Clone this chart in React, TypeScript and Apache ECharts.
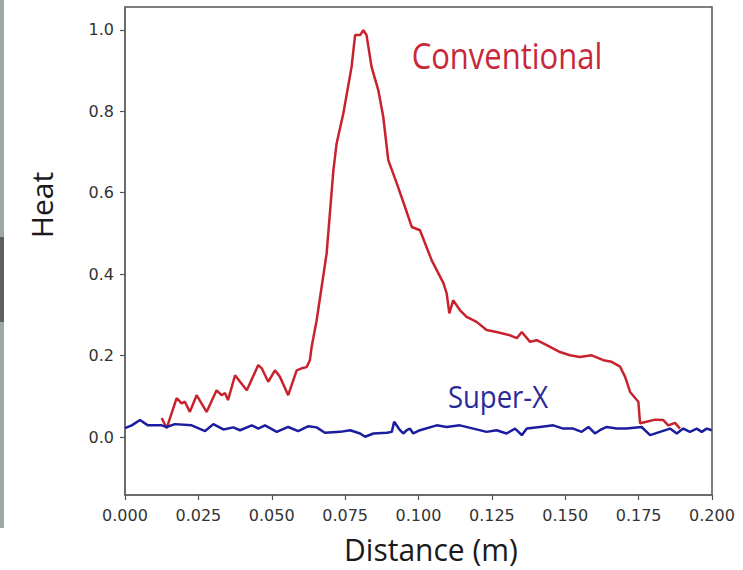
import React, { useEffect, useRef } from "react";
import * as echarts from "echarts";

const xTicks = [0, 0.025, 0.05, 0.075, 0.1, 0.125, 0.15, 0.175, 0.2];
const yTicks = [0, 0.2, 0.4, 0.6, 0.8, 1.0];

const conventionalX = [
  0.0125, 0.0142, 0.0176, 0.0193, 0.0204, 0.0221, 0.0244, 0.0278, 0.0312, 0.0329,
  0.0341, 0.0351, 0.0375, 0.0392, 0.0415, 0.0454, 0.0466, 0.0488, 0.0511, 0.0528,
  0.0556, 0.0585, 0.0602, 0.0619, 0.063, 0.0636, 0.0653, 0.0687, 0.071, 0.0721,
  0.0744, 0.0772, 0.0784, 0.0801, 0.0812, 0.0823, 0.084, 0.0863, 0.088, 0.0897,
  0.0926, 0.0954, 0.0977, 0.1005, 0.1045, 0.1085, 0.1096, 0.1105, 0.1118, 0.1141,
  0.1164, 0.1198, 0.1232, 0.1266, 0.1312, 0.1335, 0.1352, 0.138, 0.1403, 0.1437,
  0.1482, 0.1516, 0.155, 0.159, 0.163, 0.1658, 0.1687, 0.1704, 0.1721, 0.1749,
  0.1755, 0.1777, 0.1806, 0.1834, 0.1851, 0.1874, 0.1891,
];
const conventionalY = [
  0.047, 0.022, 0.096, 0.083, 0.087, 0.062, 0.103, 0.062, 0.115, 0.103,
  0.108, 0.091, 0.152, 0.136, 0.115, 0.177, 0.169, 0.136, 0.164, 0.148,
  0.103, 0.164, 0.169, 0.172, 0.189, 0.222, 0.287, 0.451, 0.655, 0.721,
  0.795, 0.909, 0.987, 0.987, 0.999, 0.987, 0.909, 0.852, 0.786, 0.68,
  0.623, 0.565, 0.516, 0.508, 0.434, 0.378, 0.353, 0.304, 0.336, 0.312,
  0.295, 0.283, 0.263, 0.258, 0.25, 0.243, 0.258, 0.234, 0.238, 0.226,
  0.209, 0.201, 0.197, 0.201, 0.189, 0.185, 0.173, 0.148, 0.111, 0.087,
  0.034, 0.038, 0.043, 0.042, 0.029, 0.035, 0.021,
];

const superX_X = [
  0.0, 0.0023, 0.0051, 0.0078, 0.0125, 0.0142, 0.017, 0.0227, 0.0273, 0.0301,
  0.0335, 0.0369, 0.0392, 0.0432, 0.0454, 0.0477, 0.0517, 0.0556, 0.059, 0.0625,
  0.0653, 0.0681, 0.0733, 0.0767, 0.0801, 0.0818, 0.0846, 0.0892, 0.0909, 0.0917,
  0.0937, 0.0948, 0.096, 0.0971, 0.0982, 0.1005, 0.1062, 0.1096, 0.1141, 0.1187,
  0.1232, 0.1266, 0.13, 0.1329, 0.1352, 0.1369, 0.1414, 0.1459, 0.1493, 0.1527,
  0.1556, 0.1579, 0.1601, 0.1618, 0.1641, 0.1675, 0.1709, 0.176, 0.1789, 0.1823,
  0.1857, 0.188, 0.1902, 0.1925, 0.1948, 0.1965, 0.1982, 0.1999,
];
const superX_Y = [
  0.022, 0.029, 0.042, 0.029, 0.029, 0.025, 0.032, 0.029, 0.015, 0.032,
  0.019, 0.024, 0.017, 0.029, 0.021, 0.029, 0.013, 0.025, 0.015, 0.027,
  0.024, 0.011, 0.013, 0.017, 0.009, 0.001, 0.009, 0.011, 0.013, 0.038,
  0.017, 0.009, 0.017, 0.021, 0.009, 0.017, 0.029, 0.025, 0.029, 0.021,
  0.013, 0.017, 0.009, 0.021, 0.005, 0.021, 0.025, 0.029, 0.021, 0.021,
  0.013, 0.025, 0.009, 0.017, 0.025, 0.021, 0.021, 0.025, 0.005, 0.013,
  0.021, 0.009, 0.021, 0.013, 0.021, 0.013, 0.021, 0.017,
];

const seriesNames = ["Conventional", "Super-X"];
const axisTitles = { x: "Distance (m)", y: "Heat" };

export default function App() {
  const ref = useRef<HTMLDivElement>(null);
  useEffect(() => {
    document.body.style.margin = "0";
    const chart = echarts.init(ref.current!, null, { renderer: "svg" });
    const conv = conventionalX.map((x, i) => [x, conventionalY[i]]);
    const sx = superX_X.map((x, i) => [x, superX_Y[i]]);
    const tickFont = {
      fontFamily: "DejaVu Sans",
      fontSize: 16,
      color: "#333",
    };
    chart.setOption({
      animation: false,
      backgroundColor: "#ffffff",
      grid: {
        left: 125,
        right: 31,
        top: 7,
        bottom: 75,
        show: true,
        borderColor: "#555",
        borderWidth: 1.5,
        outerBoundsMode: "none",
      },
      xAxis: {
        type: "value",
        min: 0,
        max: 0.2,
        interval: 0.025,
        axisLine: { show: true, onZero: false, lineStyle: { color: "#666", width: 1.5 } },
        axisTick: { show: true, length: 5, lineStyle: { color: "#555", width: 1.2 } },
        splitLine: { show: false },
        axisLabel: {
          ...tickFont,
          margin: 12,
          formatter: (v: number) => v.toFixed(3),
          customValues: xTicks,
        },
      },
      yAxis: {
        type: "value",
        min: -0.142,
        max: 1.056,
        axisLine: { show: true, onZero: false, lineStyle: { color: "#666", width: 1.5 } },
        axisTick: {
          show: true,
          length: 5,
          lineStyle: { color: "#555", width: 1.2 },
          customValues: yTicks,
        },
        splitLine: { show: false },
        axisLabel: {
          ...tickFont,
          margin: 11,
          formatter: (v: number) => v.toFixed(1),
          customValues: yTicks,
        },
      },
      series: [
        {
          name: seriesNames[0],
          type: "line",
          data: conv,
          showSymbol: false,
          symbol: "none",
          lineStyle: { color: "#c8222e", width: 2.5 },
          z: 3,
        },
        {
          name: seriesNames[1],
          type: "line",
          data: sx,
          showSymbol: false,
          symbol: "none",
          lineStyle: { color: "#1c1ca0", width: 2.5 },
          z: 4,
        },
      ],
      graphic: [
        { type: "rect", shape: { x: 0, y: 0, width: 4, height: 528 }, style: { fill: "#9ea6a8" } },
        { type: "rect", shape: { x: 0, y: 237, width: 4, height: 85 }, style: { fill: "#5a5f61" } },
        {
          type: "text",
          x: 507,
          y: 55,
          scaleY: 1.15,
          style: {
            text: seriesNames[0],
            fill: "#c8283a",
            font: '31px "Open Sans"',
            textAlign: "center",
            textVerticalAlign: "middle",
          },
        },
        {
          type: "text",
          x: 498,
          y: 396,
          scaleY: 1.15,
          style: {
            text: seriesNames[1],
            fill: "#2a2a9a",
            font: '27.5px "Open Sans"',
            textAlign: "center",
            textVerticalAlign: "middle",
          },
        },
        {
          type: "text",
          x: 41,
          y: 205,
          rotation: Math.PI / 2,
          style: {
            text: axisTitles.y,
            fill: "#1a1a1a",
            font: '30px "Open Sans"',
            textAlign: "center",
            textVerticalAlign: "middle",
          },
        },
        {
          type: "text",
          x: 431,
          y: 549,
          scaleY: 1.04,
          style: {
            text: axisTitles.x,
            fill: "#1a1a1a",
            font: '30px "Open Sans"',
            textAlign: "center",
            textVerticalAlign: "middle",
          },
        },
      ],
    });
    return () => chart.dispose();
  }, []);
  return (
    <div
      ref={ref}
      style={{ position: "absolute", left: 0, top: 0, width: 743, height: 570 }}
    />
  );
}
